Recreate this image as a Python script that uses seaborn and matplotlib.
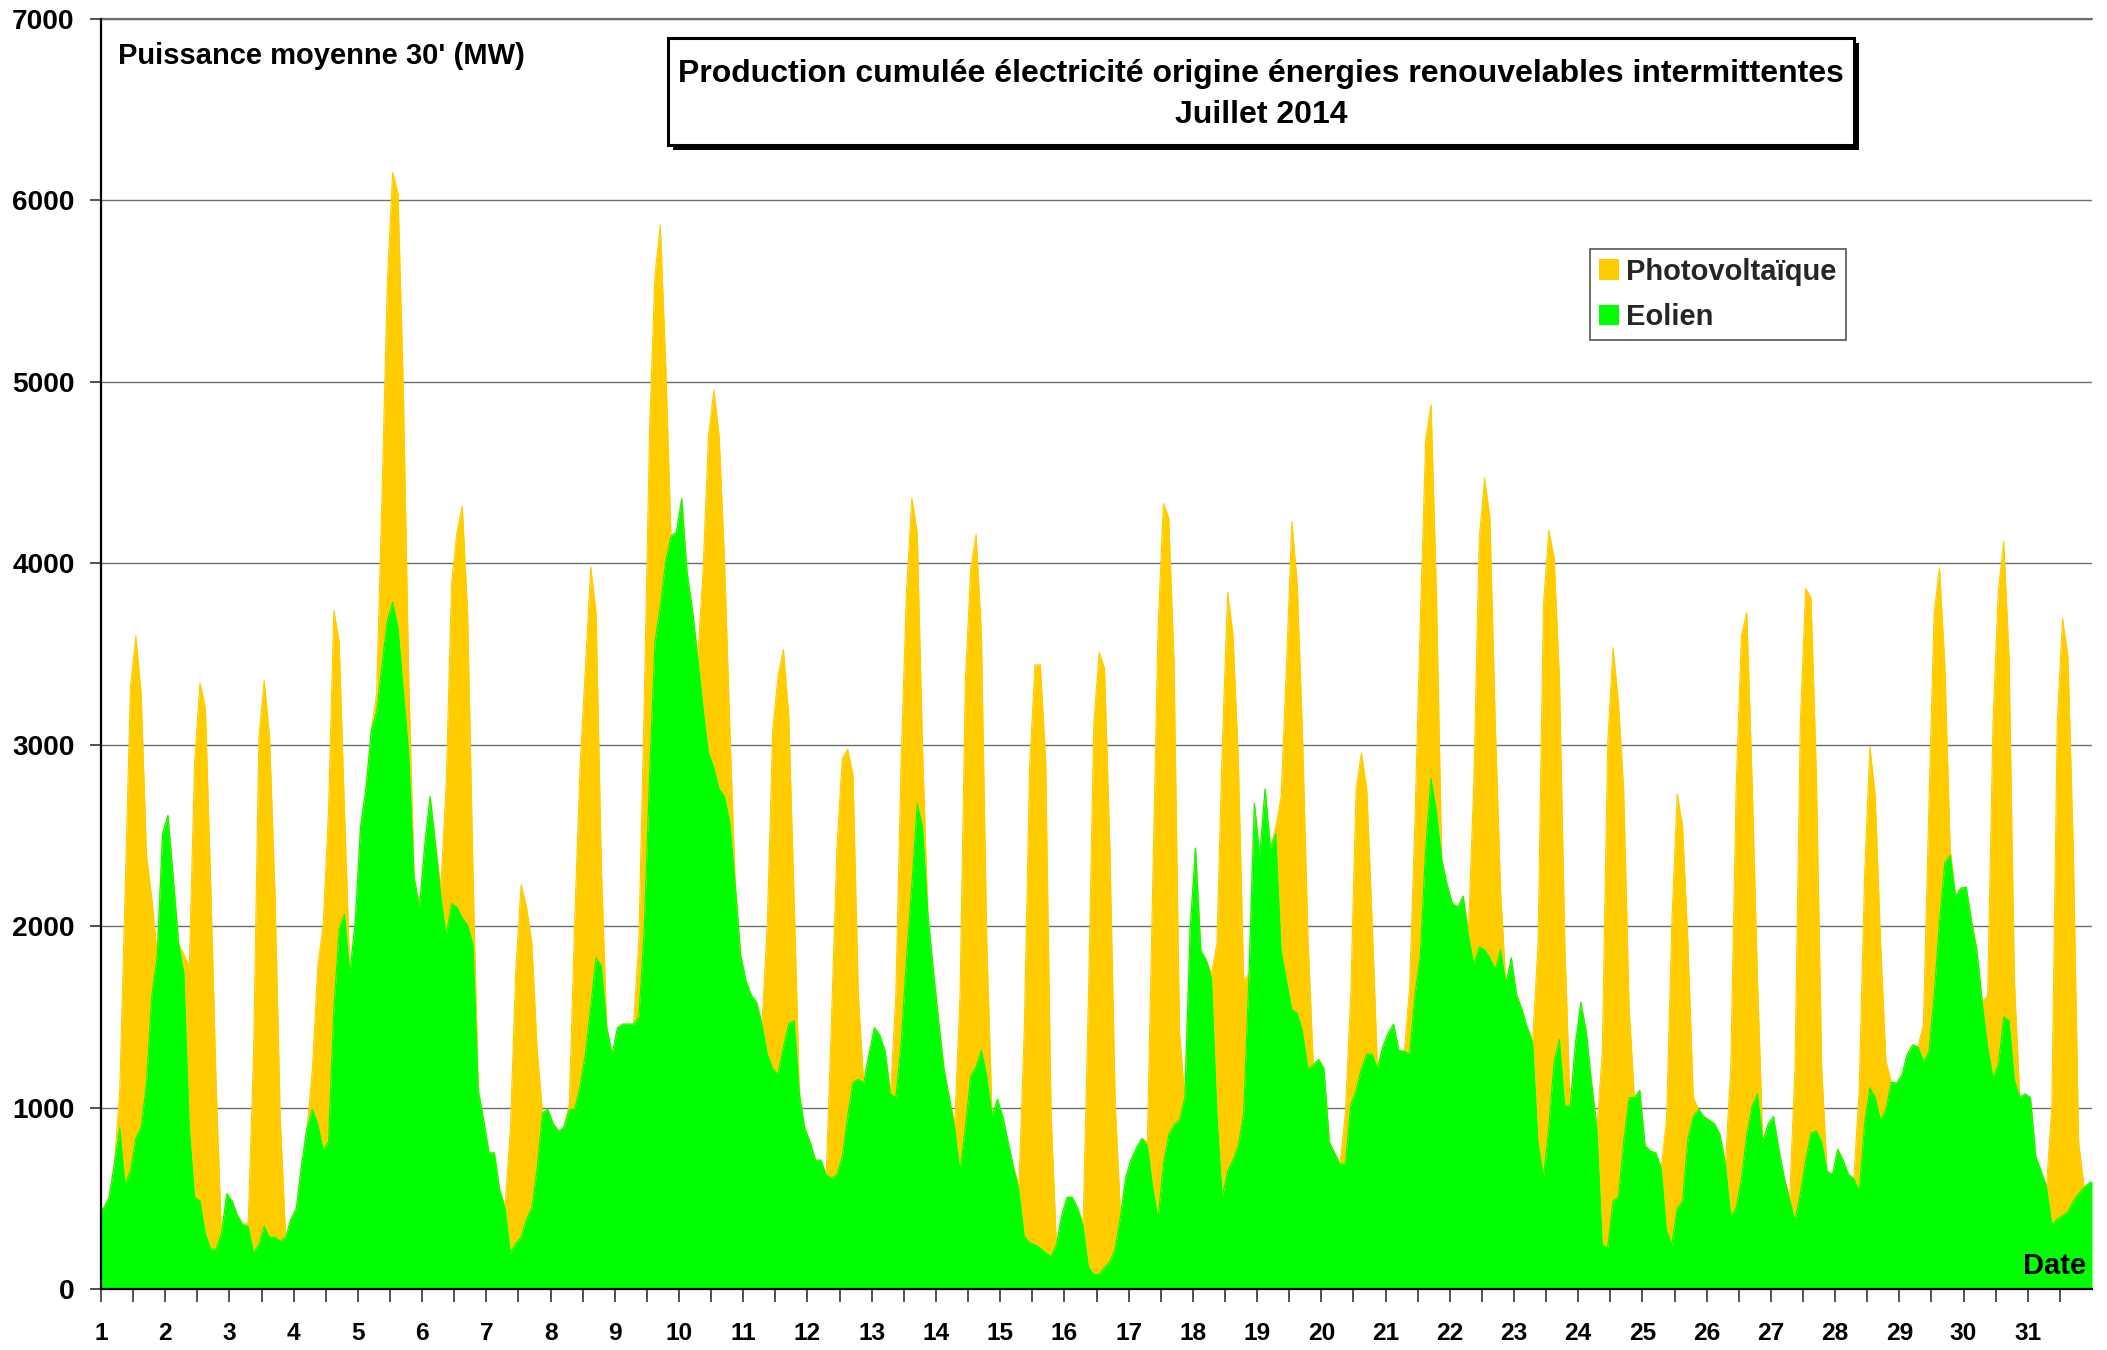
import numpy as np
import pandas as pd
import matplotlib
matplotlib.use("Agg")
import matplotlib.pyplot as plt
import seaborn as sns
from matplotlib import font_manager
from matplotlib.patches import Rectangle, Patch

# ---------------- data (MW, 2-hourly samples) ----------------
days = list(range(1, 32))
hours = [1, 3, 5, 7, 9, 11, 13, 15, 17, 19, 21, 23]
solar_hours = [7, 9, 11, 13, 15, 17, 19]

wind_start = 445   # value at 1 July 00:00
wind_end = 590     # value at 31 July 24:00

wind_mw = [
    [445, 505, 690, 890, 575, 650, 830, 890, 1135, 1620, 1840, 2510],
    [2610, 2270, 1905, 1740, 890, 505, 485, 305, 220, 220, 305, 525],
    [485, 405, 355, 345, 200, 245, 345, 285, 285, 265, 285, 385],
    [445, 690, 890, 990, 910, 770, 810, 1540, 1985, 2065, 1740, 2025],
    [2550, 2755, 3080, 3180, 3440, 3685, 3785, 3645, 3300, 2955, 2270, 2105],
    [2450, 2715, 2450, 2165, 1945, 2125, 2105, 2045, 2005, 1900, 1095, 930],
    [750, 750, 545, 445, 200, 250, 285, 385, 445, 670, 970, 990],
    [910, 870, 890, 990, 990, 1115, 1295, 1560, 1825, 1780, 1440, 1295],
    [1440, 1460, 1460, 1460, 1500, 1985, 2835, 3565, 3765, 4010, 4150, 4170],
    [4355, 3950, 3745, 3485, 3200, 2955, 2875, 2755, 2715, 2570, 2230, 1845],
    [1700, 1620, 1580, 1460, 1295, 1215, 1180, 1335, 1460, 1480, 1075, 885],
    [810, 710, 710, 630, 610, 630, 730, 950, 1140, 1155, 1135, 1295],
    [1440, 1400, 1315, 1075, 1055, 1355, 1825, 2230, 2675, 2550, 2065, 1760],
    [1480, 1215, 1055, 890, 650, 890, 1175, 1225, 1315, 1175, 950, 1045],
    [950, 810, 670, 545, 290, 255, 245, 225, 200, 180, 245, 405],
    [505, 505, 445, 345, 120, 80, 80, 120, 150, 225, 405, 620],
    [715, 780, 830, 790, 565, 385, 690, 850, 905, 930, 1055, 1985],
    [2430, 1865, 1815, 1710, 970, 505, 650, 710, 790, 970, 1740, 2675],
    [2390, 2755, 2430, 2510, 1865, 1700, 1540, 1520, 1420, 1215, 1235, 1265],
    [1215, 810, 750, 690, 690, 1015, 1095, 1215, 1295, 1295, 1215, 1335],
    [1410, 1460, 1315, 1310, 1295, 1620, 1845, 2430, 2815, 2635, 2370, 2230],
    [2125, 2105, 2165, 1945, 1790, 1885, 1870, 1825, 1760, 1870, 1680, 1825],
    [1620, 1540, 1440, 1355, 810, 610, 890, 1255, 1375, 1010, 1010, 1355],
    [1580, 1420, 1135, 890, 245, 225, 485, 505, 810, 1055, 1055, 1095],
    [790, 760, 750, 670, 325, 245, 445, 485, 830, 950, 990, 950],
    [930, 910, 850, 690, 405, 445, 610, 850, 1010, 1075, 810, 910],
    [950, 770, 615, 495, 375, 525, 710, 860, 870, 810, 650, 630],
    [770, 710, 630, 610, 535, 910, 1110, 1055, 930, 990, 1140, 1135],
    [1180, 1295, 1345, 1335, 1255, 1305, 1620, 2025, 2350, 2390, 2165, 2210],
    [2215, 2025, 1865, 1580, 1335, 1165, 1235, 1500, 1480, 1155, 1055, 1075],
    [1055, 730, 650, 565, 355, 385, 405, 425, 485, 525, 560, 585],
]

solar_mw = [
    [200, 1610, 2670, 2770, 2390, 1255, 530],
    [100, 890, 2410, 2855, 2895, 2010, 915],
    [20, 1095, 2795, 3010, 2755, 1900, 665],
    [225, 870, 1235, 1820, 2200, 1580, 565],
    [100, 935, 1865, 2370, 2390, 1640, 405],
    [50, 850, 1765, 2065, 2270, 1720, 400],
    [10, 690, 1510, 1945, 1720, 1460, 645],
    [30, 1035, 1760, 2125, 2420, 1900, 530],
    [0, 425, 1255, 1905, 2025, 2100, 1090],
    [0, 770, 1745, 2080, 1945, 1295, 510],
    [0, 730, 1865, 2200, 2190, 1700, 670],
    [0, 890, 1800, 2195, 2025, 1695, 465],
    [0, 565, 1560, 2025, 2130, 1495, 425],
    [20, 970, 2470, 2795, 2935, 2290, 730],
    [30, 1130, 2620, 3195, 3215, 2715, 800],
    [20, 1500, 3040, 3430, 3300, 2280, 790],
    [20, 1665, 3260, 3640, 3400, 2535, 490],
    [30, 935, 2490, 3190, 2895, 2125, 730],
    [40, 850, 1740, 2690, 2370, 1620, 730],
    [0, 280, 605, 1660, 1740, 1460, 730],
    [0, 365, 970, 1840, 2250, 2060, 1215],
    [40, 1005, 2245, 2600, 2425, 1360, 320],
    [20, 1095, 3155, 3290, 2775, 1985, 895],
    [0, 1055, 2775, 3050, 2735, 1940, 505],
    [0, 605, 1780, 2285, 2065, 1075, 105],
    [0, 810, 2310, 2995, 2880, 1785, 625],
    [0, 840, 2595, 3150, 2950, 1965, 405],
    [0, 560, 1360, 1880, 1660, 975, 265],
    [0, 205, 1330, 2105, 1950, 1090, 40],
    [0, 285, 1955, 2615, 2620, 2000, 545],
    [0, 660, 2735, 3290, 3060, 1945, 285],
]

series_labels = ["Photovoltaïque", "Eolien"]
title_lines = ["Production cumulée électricité origine énergies renouvelables intermittentes",
               "Juillet 2014"]
y_ticks = [0, 1000, 2000, 3000, 4000, 5000, 6000, 7000]

# ---------------- build table ----------------
t, w, s = [0.0], [wind_start], [0]
for d in range(len(days)):
    for h, wv in zip(hours, wind_mw[d]):
        t.append(d + h / 24.0)
        w.append(wv)
        s.append(solar_mw[d][solar_hours.index(h)] if h in solar_hours else 0)
t.append(float(len(days)))
w.append(wind_end)
s.append(0)
df = pd.DataFrame({"t": t, "eolien": w, "pv": s})
df["total"] = df["eolien"] + df["pv"]

# ---------------- style ----------------
sns.set_theme(style="white")
names = {f.name for f in font_manager.fontManager.ttflist}
if "Liberation Sans Narrow" in names:
    fam, k = "Liberation Sans Narrow", 1.0
else:
    fam, k = "Liberation Sans", 0.84
plt.rcParams["font.family"] = [fam, "DejaVu Sans"]

GREEN = "#00FF00"
YELLOW = "#FFCC00"

W, H = 2107, 1350
fig = plt.figure(figsize=(W / 100, H / 100), dpi=100)
fig.patch.set_facecolor("white")
ax = fig.add_axes([101 / W, 1 - 1289 / H, (2092 - 101) / W, (1289 - 19) / H])
ax.set_facecolor("white")

ax.stackplot(df["t"], df["eolien"], df["pv"], colors=[GREEN, YELLOW], linewidth=0, zorder=2)
sns.lineplot(x=df["t"], y=df["total"], color=YELLOW, lw=0.8, ax=ax, zorder=2.1)
sns.lineplot(x=df["t"], y=df["eolien"], color=GREEN, lw=0.8, ax=ax, zorder=2.2)

ax.set_xlim(0, len(days))
ax.set_ylim(0, 7000)
ax.set_xlabel("")
ax.set_ylabel("")

ax.set_axisbelow(True)
ax.yaxis.grid(True, color="#6e6e6e", lw=1.0)
ax.xaxis.grid(False)
ax.axhline(7000, color="#6e6e6e", lw=1.6, clip_on=False, zorder=0.5)

ax.set_xticks(np.arange(len(days)))
ax.set_xticklabels([str(d) for d in days])
ax.set_xticks(np.arange(0.5, len(days), 1.0), minor=True)
ax.set_yticks(y_ticks)
ax.set_yticklabels([str(v) for v in y_ticks])

ax.tick_params(axis="x", which="both", direction="out", length=9, width=1.2,
               color="#333333", bottom=True)
ax.tick_params(axis="x", which="major", pad=15, labelsize=21 * k)
ax.tick_params(axis="y", which="major", direction="out", length=8, width=1.2,
               color="#333333", left=True, pad=11, labelsize=24 * k)
for lab in ax.get_xticklabels() + ax.get_yticklabels():
    lab.set_fontweight("bold")
    lab.set_color("black")

for side in ["top", "right"]:
    ax.spines[side].set_visible(False)
for side in ["left", "bottom"]:
    ax.spines[side].set_color("black")
    ax.spines[side].set_linewidth(1.6)

# y-axis caption and "Date"
fig.text(118 / W, 1 - 56 / H, "Puissance moyenne 30' (MW)", ha="left", va="center",
         fontsize=25 * k, fontweight="bold", color="black")
fig.text(2086 / W, 1 - 1266 / H, "Date", ha="right", va="center",
         fontsize=25 * k, fontweight="bold", color="black")

# title box with shadow
x0, x1 = 668 / W, 1854 / W
yt, yb = 1 - 37.6 / H, 1 - 145 / H
dx, dy = 5 / W, 5 / H
fig.patches.append(Rectangle((x0 + dx, yb - dy), x1 - x0, yt - yb, transform=fig.transFigure,
                             facecolor="black", edgecolor="black", lw=0, zorder=5))
fig.patches.append(Rectangle((x0, yb), x1 - x0, yt - yb, transform=fig.transFigure,
                             facecolor="white", edgecolor="black", lw=2.2, zorder=6))
xc = (x0 + x1) / 2
fig.text(xc, 1 - 74 / H, title_lines[0], ha="center", va="center", fontsize=27.4 * k,
         fontweight="bold", color="black", zorder=7)
fig.text(xc, 1 - 115 / H, title_lines[1], ha="center", va="center", fontsize=27.4 * k,
         fontweight="bold", color="black", zorder=7)

# legend
handles = [Patch(facecolor=YELLOW, edgecolor="none", label=series_labels[0]),
           Patch(facecolor=GREEN, edgecolor="none", label=series_labels[1])]
leg = ax.legend(handles=handles, loc="upper left", bbox_to_anchor=(1590 / W, 1 - 249 / H),
                bbox_transform=fig.transFigure, frameon=True, fancybox=False,
                edgecolor="#555555", framealpha=1, borderaxespad=0,
                prop={"family": [fam, "DejaVu Sans"], "weight": "bold", "size": 25 * k},
                handlelength=0.7, handleheight=0.7, handletextpad=0.25,
                borderpad=0.3, labelspacing=0.6)
leg.get_frame().set_linewidth(1.2)

fig.savefig("out.png", dpi=100, facecolor="white")
